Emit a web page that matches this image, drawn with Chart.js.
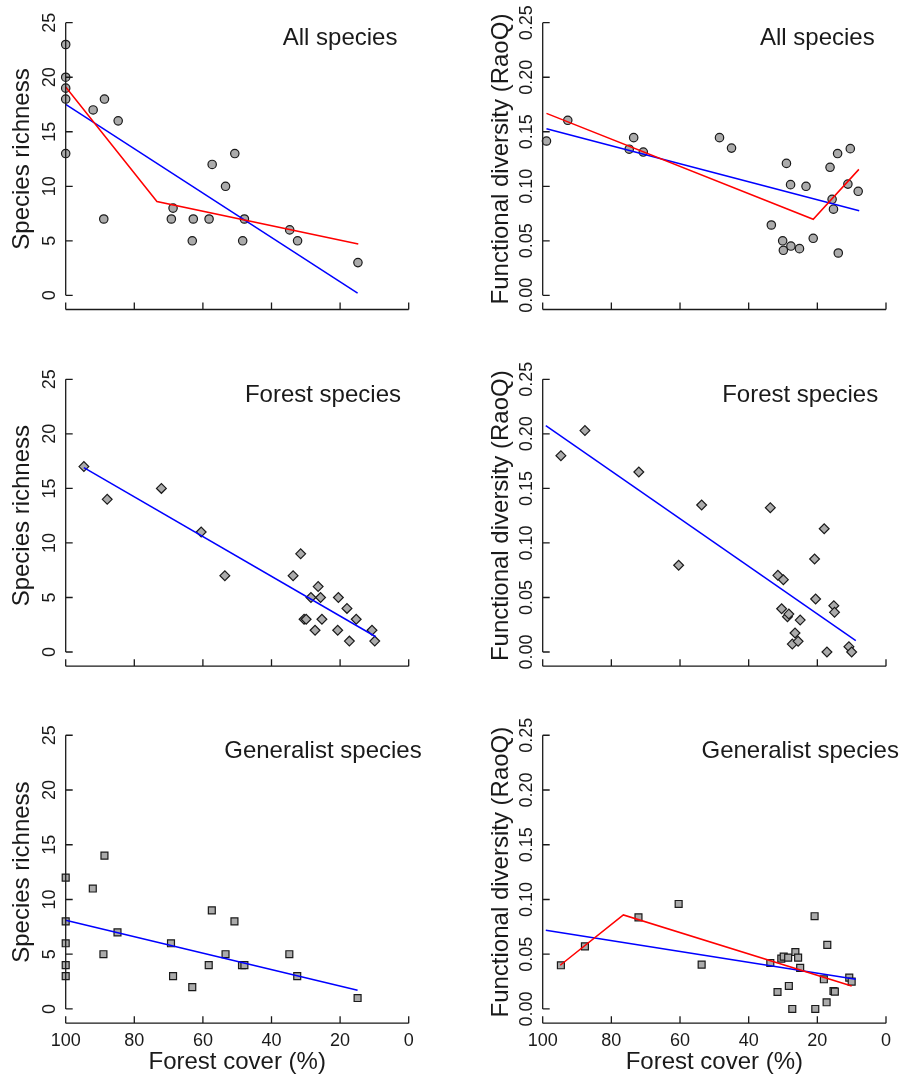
<!DOCTYPE html>
<html>
<head>
<meta charset="utf-8">
<title>Species richness and functional diversity vs forest cover</title>
<script src="https://cdn.jsdelivr.net/npm/chart.js@4.4.1/dist/chart.umd.min.js"></script>
<style>
    html, body { margin: 0; padding: 0; background: #fff; }
    body { position: relative; width: 914px; height: 1075px; overflow: hidden; }
    canvas { position: absolute; }
</style>
</head>
<body>
<canvas id="c1" width="457" height="340" style="left:0;top:0"></canvas>
<canvas id="c2" width="457" height="340" style="left:457px;top:0"></canvas>
<canvas id="c3" width="457" height="350" style="left:0;top:340px"></canvas>
<canvas id="c4" width="457" height="350" style="left:457px;top:340px"></canvas>
<canvas id="c5" width="457" height="385" style="left:0;top:690px"></canvas>
<canvas id="c6" width="457" height="385" style="left:457px;top:690px"></canvas>
<script>
// Axis ticks
const coverTicks = [100, 80, 60, 40, 20, 0];
const richTicks = [0, 5, 10, 15, 20, 25];
const raoTicks = [0, 0.05, 0.10, 0.15, 0.20, 0.25];

// All species - richness
const allRichCover = [100, 100, 100, 100, 100, 92.0, 88.7, 88.9, 84.7, 69.2, 68.7, 62.8, 63.1, 58.2, 57.3, 53.4, 50.7, 47.9, 48.4, 34.7, 32.4, 14.8];
const allRichValue = [23, 20, 19, 18, 13, 17, 18, 7, 16, 7, 8, 7, 5, 7, 12, 10, 13, 7, 5, 6, 5, 3];
const allRichBlueX = [100, 14.9];
const allRichBlueY = [17.5, 0.2];
const allRichRedX = [100, 73.4, 14.7];
const allRichRedY = [19.1, 8.6, 4.7];

// All species - RaoQ
const allRaoCover = [98.9, 92.7, 74.8, 73.5, 70.7, 48.5, 45.0, 33.4, 29.0, 30.1, 29.9, 27.8, 27.7, 25.2, 23.3, 21.2, 16.3, 15.7, 15.3, 14.1, 13.9, 11.1, 10.4, 8.1];
const allRaoValue = [0.1415, 0.1605, 0.134, 0.1446, 0.1314, 0.1446, 0.135, 0.0645, 0.121, 0.050, 0.0413, 0.1015, 0.0452, 0.0428, 0.100, 0.0523, 0.1174, 0.088, 0.079, 0.130, 0.0388, 0.102, 0.1345, 0.0954];
const allRaoBlueX = [98.9, 7.8];
const allRaoBlueY = [0.1528, 0.0776];
const allRaoRedX = [98.9, 21.2, 7.9];
const allRaoRedY = [0.1669, 0.0697, 0.1155];

// Forest species - richness
const forRichCover = [94.7, 87.9, 72.1, 60.5, 53.6, 33.7, 31.5, 30.5, 29.9, 28.5, 27.3, 26.4, 25.7, 25.3, 20.7, 20.5, 18.0, 17.3, 15.3, 10.7, 9.9];
const forRichValue = [17, 14, 15, 11, 7, 7, 9, 3, 3, 5, 2, 6, 5, 3, 2, 5, 4, 1, 3, 2, 1];
const forRichBlueX = [94.7, 9.6];
const forRichBlueY = [16.9, 1.4];

// Forest species - RaoQ
const forRaoCover = [94.7, 87.7, 72.0, 60.4, 53.7, 33.7, 31.5, 29.9, 30.4, 28.7, 28.3, 25.0, 26.5, 27.3, 25.6, 20.8, 20.5, 18.0, 17.2, 15.2, 15.0, 10.8, 10.0];
const forRaoValue = [0.180, 0.203, 0.165, 0.0795, 0.1348, 0.1323, 0.0703, 0.0663, 0.0397, 0.0324, 0.0348, 0.0293, 0.0174, 0.0073, 0.0098, 0.0853, 0.0486, 0.113, 0.000, 0.0425, 0.0364, 0.0049, 0.000];
const forRaoBlueX = [99.1, 8.8];
const forRaoBlueY = [0.2075, 0.0104];

// Generalist species - richness
const genRichCover = [100, 100, 100, 100, 100, 92.1, 88.7, 89.0, 84.9, 69.3, 68.7, 63.1, 58.3, 57.4, 53.4, 50.8, 48.6, 47.9, 34.8, 32.5, 14.9];
const genRichValue = [12, 8, 6, 4, 3, 11, 14, 5, 7, 6, 3, 2, 4, 9, 5, 8, 4, 4, 5, 3, 1];
const genRichBlueX = [100, 14.9];
const genRichBlueY = [8.1, 1.7];

// Generalist species - RaoQ
const genRaoCover = [94.7, 87.7, 72.1, 60.4, 53.7, 33.7, 31.6, 30.5, 29.8, 28.5, 28.3, 27.3, 26.4, 25.6, 25.0, 20.8, 20.6, 18.1, 17.3, 17.1, 15.3, 14.9, 10.7, 10.0];
const genRaoValue = [0.0399, 0.0572, 0.0837, 0.0959, 0.0405, 0.042, 0.0155, 0.046, 0.0478, 0.0469, 0.021, 0.000, 0.052, 0.0469, 0.0375, 0.0847, 0.000, 0.0271, 0.0061, 0.0585, 0.0164, 0.0158, 0.0286, 0.025];
const genRaoBlueX = [99.1, 8.8];
const genRaoBlueY = [0.0719, 0.0271];
const genRaoRedX = [94.9, 76.5, 10.0];
const genRaoRedY = [0.0399, 0.0859, 0.021];

const ink = '#1a1a1a';
const FONT = '"Liberation Sans", Arial, Helvetica, sans-serif';

// Pair up x and y arrays for Chart.js
function pts(xs, ys) {
    return xs.map((x, i) => ({ x: x, y: ys[i] }));
}

// R-style axes: lines only between end ticks, ticks pointing inward, rotated y labels
const rAxes = {
    id: 'rAxes',
    afterDraw(chart, args, o) {
        const ctx = chart.ctx;
        const a = chart.chartArea;
        const x = chart.scales.x;
        const y = chart.scales.y;
        const yTicks = o.yTicks;
        const top = y.getPixelForValue(yTicks[yTicks.length - 1]);
        const bottom = y.getPixelForValue(yTicks[0]);

        ctx.save();
        ctx.strokeStyle = ink;
        ctx.fillStyle = ink;
        ctx.lineWidth = 1.3;
        ctx.beginPath();
        ctx.moveTo(a.left, top);
        ctx.lineTo(a.left, bottom);
        yTicks.forEach(v => {
            const py = y.getPixelForValue(v);
            ctx.moveTo(a.left, py);
            ctx.lineTo(a.left + 7, py);
        });
        ctx.moveTo(x.getPixelForValue(coverTicks[0]), a.bottom);
        ctx.lineTo(x.getPixelForValue(coverTicks[coverTicks.length - 1]), a.bottom);
        coverTicks.forEach(v => {
            const px = x.getPixelForValue(v);
            ctx.moveTo(px, a.bottom);
            ctx.lineTo(px, a.bottom - 7);
        });
        ctx.stroke();

        // y tick labels
        ctx.font = '18px ' + FONT;
        ctx.textAlign = 'center';
        ctx.textBaseline = 'alphabetic';
        yTicks.forEach(v => {
            ctx.save();
            ctx.translate(a.left - 11, y.getPixelForValue(v));
            ctx.rotate(-Math.PI / 2);
            ctx.fillText(v.toFixed(o.decimals), 0, 0);
            ctx.restore();
        });

        // y title
        ctx.font = '24px ' + FONT;
        ctx.save();
        ctx.translate(a.left - o.yTitleGap, (top + bottom) / 2);
        ctx.rotate(-Math.PI / 2);
        ctx.fillText(o.yTitle, 0, 0);
        ctx.restore();

        // panel title
        ctx.fillText(o.title, x.getPixelForValue(o.titleAt), y.getPixelForValue(o.titleY));

        // x labels only on the bottom row
        if (o.xLabels) {
            ctx.font = '18px ' + FONT;
            coverTicks.forEach(v => {
                ctx.fillText(String(v), x.getPixelForValue(v), a.bottom + 22.5);
            });
            ctx.font = '24px ' + FONT;
            ctx.fillText('Forest cover (%)', (a.left + a.right) / 2, a.bottom + 46);
        }
        ctx.restore();
    }
};

// Build one panel
function makePanel(p) {
    const rich = p.kind === 'rich';
    const left = p.col === 0 ? 65.7 : 85.7;
    const right = p.col === 0 ? 48.3 : 28;
    const rows = [
        { top: 11.8, bottom: 30.5 },
        { top: 28.4, bottom: 23.8 },
        { top: 34.3, bottom: 51.8 }
    ];
    const pointStyle = { circle: 'circle', diamond: 'rectRot', square: 'rect' }[p.shape];
    const radius = { circle: 4.2, diamond: 4.9, square: 4.9 }[p.shape];

    const datasets = [];
    if (p.redX) {
        datasets.push({
            data: pts(p.redX, p.redY), showLine: true, borderColor: '#ff0000',
            borderWidth: 1.5, pointRadius: 0, clip: false
        });
    }
    datasets.push({
        data: pts(p.blueX, p.blueY), showLine: true, borderColor: '#0000ff',
        borderWidth: 1.5, pointRadius: 0, clip: false
    });
    datasets.push({
        data: pts(p.cover, p.value), pointStyle: pointStyle, pointRadius: radius,
        backgroundColor: '#ababab', borderColor: ink, borderWidth: 1.2, clip: false
    });

    return new Chart(document.getElementById(p.id), {
        type: 'scatter',
        data: { datasets: datasets },
        options: {
            responsive: false,
            animation: false,
            events: [],
            layout: { padding: { left: left, right: right, top: rows[p.row].top, bottom: rows[p.row].bottom } },
            scales: {
                x: { type: 'linear', display: false, reverse: true, min: 0, max: 100 },
                y: { type: 'linear', display: false, min: rich ? -1.3 : -0.013, max: rich ? 26 : 0.26 }
            },
            plugins: {
                legend: { display: false },
                tooltip: { enabled: false },
                rAxes: {
                    yTicks: rich ? richTicks : raoTicks,
                    decimals: rich ? 0 : 2,
                    yTitle: rich ? 'Species richness' : 'Functional diversity (RaoQ)',
                    yTitleGap: rich ? 37 : 34.5,
                    title: p.title,
                    titleAt: p.row === 0 ? 20 : 25,
                    titleY: rich ? 22.95 : 0.2295,
                    xLabels: p.row === 2
                }
            }
        },
        plugins: [rAxes]
    });
}

document.addEventListener('DOMContentLoaded', () => {
    makePanel({ id: 'c1', row: 0, col: 0, kind: 'rich', shape: 'circle', title: 'All species',
        cover: allRichCover, value: allRichValue, blueX: allRichBlueX, blueY: allRichBlueY, redX: allRichRedX, redY: allRichRedY });
    makePanel({ id: 'c2', row: 0, col: 1, kind: 'rao', shape: 'circle', title: 'All species',
        cover: allRaoCover, value: allRaoValue, blueX: allRaoBlueX, blueY: allRaoBlueY, redX: allRaoRedX, redY: allRaoRedY });
    makePanel({ id: 'c3', row: 1, col: 0, kind: 'rich', shape: 'diamond', title: 'Forest species',
        cover: forRichCover, value: forRichValue, blueX: forRichBlueX, blueY: forRichBlueY });
    makePanel({ id: 'c4', row: 1, col: 1, kind: 'rao', shape: 'diamond', title: 'Forest species',
        cover: forRaoCover, value: forRaoValue, blueX: forRaoBlueX, blueY: forRaoBlueY });
    makePanel({ id: 'c5', row: 2, col: 0, kind: 'rich', shape: 'square', title: 'Generalist species',
        cover: genRichCover, value: genRichValue, blueX: genRichBlueX, blueY: genRichBlueY });
    makePanel({ id: 'c6', row: 2, col: 1, kind: 'rao', shape: 'square', title: 'Generalist species',
        cover: genRaoCover, value: genRaoValue, blueX: genRaoBlueX, blueY: genRaoBlueY, redX: genRaoRedX, redY: genRaoRedY });
});
</script>
</body>
</html>
